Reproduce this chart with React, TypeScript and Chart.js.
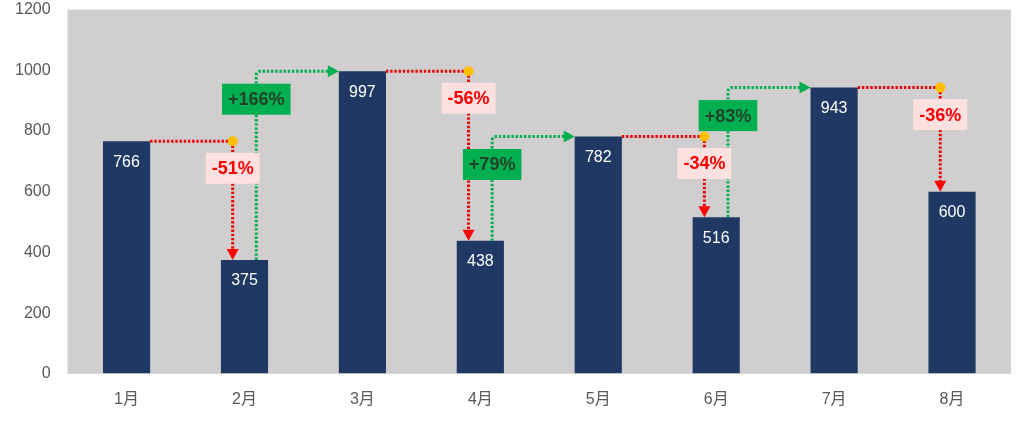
import React, { useEffect, useRef } from 'react';
import { Chart, registerables } from 'chart.js';

Chart.register(...registerables);

// data
const months = ['1月', '2月', '3月', '4月', '5月', '6月', '7月', '8月'];
const sales = [766, 375, 997, 438, 782, 516, 943, 600];
const changeLabels = ['-51%', '+166%', '-56%', '+79%', '-34%', '+83%', '-36%'];
const yMin = 0;
const yMax = 1200;
const yStep = 200;

const FONT = '"Liberation Sans", "Noto Sans CJK SC", sans-serif';
const NAVY = '#1f3864';
const RED = '#f00000';
const GREEN = '#00b050';
const YELLOW = '#ffc000';

const plotBg = {
  id: 'plotBg',
  beforeDraw(chart: any) {
    const { ctx, chartArea: a } = chart;
    ctx.save();
    ctx.fillStyle = '#d0cece';
    ctx.fillRect(a.left, a.top, a.right - a.left, a.bottom - a.top);
    ctx.restore();
  }
};

function dottedPath(ctx: CanvasRenderingContext2D, color: string, draw: () => void) {
  ctx.save();
  ctx.strokeStyle = color;
  ctx.lineWidth = 3;
  ctx.setLineDash([2.4, 1.8]);
  ctx.beginPath();
  draw();
  ctx.stroke();
  ctx.restore();
}

function triangle(ctx: CanvasRenderingContext2D, color: string, pts: number[][]) {
  ctx.save();
  ctx.fillStyle = color;
  ctx.beginPath();
  ctx.moveTo(pts[0][0], pts[0][1]);
  ctx.lineTo(pts[1][0], pts[1][1]);
  ctx.lineTo(pts[2][0], pts[2][1]);
  ctx.closePath();
  ctx.fill();
  ctx.restore();
}

const connectors = {
  id: 'connectors',
  afterDatasetsDraw(chart: any) {
    const { ctx } = chart;
    const bars = chart.getDatasetMeta(0).data;
    const xScale = chart.scales.x;
    const offset = (xScale.getPixelForValue(1) - xScale.getPixelForValue(0)) * 0.1;
    const boxes: { x: number; y: number; text: string; bg: string; color: string }[] = [];

    for (let i = 0; i < bars.length - 1; i++) {
      const a = bars[i];
      const b = bars[i + 1];
      const ya = a.y;
      const yb = b.y;
      if (sales[i + 1] < sales[i]) {
        const x = b.x - offset;
        dottedPath(ctx, RED, () => {
          ctx.moveTo(a.x + a.width / 2, ya);
          ctx.lineTo(x, ya);
        });
        dottedPath(ctx, RED, () => {
          ctx.moveTo(x, ya);
          ctx.lineTo(x, yb - 10);
        });
        triangle(ctx, '#ff0000', [[x - 6, yb - 11], [x + 6, yb - 11], [x, yb]]);
        ctx.save();
        ctx.fillStyle = YELLOW;
        ctx.beginPath();
        ctx.arc(x, ya, 5, 0, Math.PI * 2);
        ctx.fill();
        ctx.restore();
        boxes.push({ x, y: ya + 27, text: changeLabels[i], bg: '#fde0e0', color: '#ff0000' });
      } else {
        const x = a.x + offset;
        const xEnd = b.x - b.width / 2;
        dottedPath(ctx, GREEN, () => {
          ctx.moveTo(x, ya);
          ctx.arcTo(x, yb, x + 10, yb, 4);
          ctx.lineTo(xEnd - 9, yb);
        });
        triangle(ctx, GREEN, [[xEnd - 11, yb - 6], [xEnd - 11, yb + 6], [xEnd, yb]]);
        boxes.push({ x, y: yb + 28, text: changeLabels[i], bg: GREEN, color: '#24412a' });
      }
    }

    // value labels inside the bars
    ctx.save();
    ctx.fillStyle = '#ffffff';
    ctx.font = '16px ' + FONT;
    ctx.textAlign = 'center';
    ctx.textBaseline = 'middle';
    bars.forEach((bar: any, i: number) => {
      ctx.fillText(String(sales[i]), bar.x, bar.y + 21);
    });
    ctx.restore();

    // percentage boxes on top of all lines
    ctx.save();
    ctx.font = 'bold 18px ' + FONT;
    ctx.textAlign = 'center';
    ctx.textBaseline = 'middle';
    boxes.forEach((bx) => {
      const w = ctx.measureText(bx.text).width + 12;
      const h = 31;
      ctx.fillStyle = bx.bg;
      ctx.fillRect(bx.x - w / 2, bx.y - h / 2, w, h);
      ctx.fillStyle = bx.color;
      ctx.fillText(bx.text, bx.x, bx.y + 1);
    });
    ctx.restore();
  }
};

const App: React.FC = () => {
  const chartRef = useRef<HTMLCanvasElement>(null);
  const chartInstance = useRef<Chart | null>(null);

  useEffect(() => {
    if (!chartRef.current) return;
    if (chartInstance.current) {
      chartInstance.current.destroy();
    }
    const ctx = chartRef.current.getContext('2d');
    if (!ctx) return;

    chartInstance.current = new Chart(ctx, {
      type: 'bar',
      data: {
        labels: months,
        datasets: [
          {
            label: '销售额',
            data: sales,
            backgroundColor: NAVY,
            barPercentage: 0.4,
            categoryPercentage: 1
          }
        ]
      },
      options: {
        animation: false,
        responsive: true,
        maintainAspectRatio: false,
        layout: { padding: { left: 15, right: 15, top: 0, bottom: 14 } },
        plugins: {
          legend: { display: false },
          tooltip: { enabled: false }
        },
        scales: {
          x: {
            grid: {
              display: true,
              color: 'rgba(0,0,0,0)',
              drawOnChartArea: false,
              drawTicks: true,
              tickLength: 16
            },
            border: { display: true, color: '#d9d9d9', width: 1 },
            ticks: {
              color: '#595959',
              font: { family: FONT, size: 16 },
              padding: 0
            }
          },
          y: {
            min: yMin,
            max: yMax,
            grid: {
              display: true,
              color: 'rgba(0,0,0,0)',
              drawOnChartArea: false,
              drawTicks: true,
              tickLength: 17
            },
            border: { display: false },
            ticks: {
              stepSize: yStep,
              color: '#595959',
              font: { family: FONT, size: 16 },
              padding: 0,
              callback: (value: any) => String(value)
            }
          }
        }
      },
      plugins: [plotBg, connectors]
    });

    return () => {
      if (chartInstance.current) {
        chartInstance.current.destroy();
        chartInstance.current = null;
      }
    };
  }, []);

  return (
    <div style={{ position: 'fixed', left: 0, top: 0, width: 1026, height: 423, background: '#fff' }}>
      <canvas ref={chartRef}></canvas>
    </div>
  );
};

export default App;
